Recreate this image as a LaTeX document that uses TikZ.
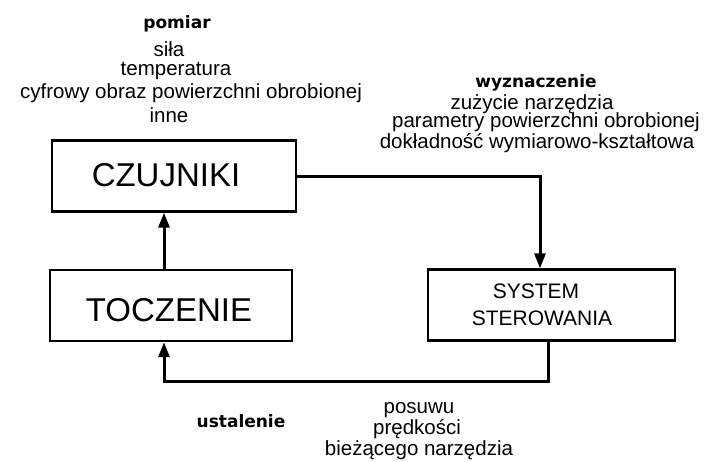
\documentclass[tikz,border=0pt]{standalone}
\usepackage{fontspec}
\setmainfont{Liberation Sans}
\newfontfamily\boldfont{DejaVu Sans}
\usetikzlibrary{arrows.meta}

\begin{document}
\begin{tikzpicture}[x=1pt,y=-1pt,
  blok/.style={draw,line width=2.4pt,minimum width=#1,minimum height=71pt,inner sep=0pt},
  duzy/.style={inner sep=0pt,font=\fontsize{33}{36}\selectfont},
  srodek/.style={anchor=base,inner sep=0pt,font=\fontsize{21}{24}\selectfont},
  opis/.style={anchor=base,inner sep=0pt,font=\fontsize{20.5}{22}\selectfont},
  naglowek/.style={anchor=base,inner sep=0pt,font=\boldfont\bfseries\fontsize{17}{19}\selectfont},
  strz/.style={line width=3pt,-{Triangle[length=15pt,width=11pt]}}]
  \useasboundingbox (0,0) rectangle (707,461);
  % bloki
  \node[blok=244pt] (czujniki) at (174,176) {};
  \node[blok=242pt] (toczenie) at (171,305.5) {};
  \node[blok=247pt] (system) at (551.5,305) {};
  \node[duzy] (czujnikiT) at (166,175) {CZUJNIKI};
  \node[duzy] (toczenieT) at (169,310) {TOCZENIE};
  \node[srodek] (systemT) at (536,298) {SYSTEM};
  \node[srodek] (sterowT) at (542,325) {STEROWANIA};
  % pomiar
  \node[naglowek] (pomiar) at (177,28) {pomiar};
  \node[opis] (sila) at (169,56) {siła};
  \node[opis] (temp) at (176,75) {temperatura};
  \node[opis] (obraz) at (191,98) {cyfrowy obraz powierzchni obrobionej};
  \node[opis] (inne) at (169,122) {inne};
  % wyznaczenie
  \node[naglowek] (wyzn) at (536,87.5) {wyznaczenie};
  \node[opis] (zuzycie) at (532,109) {zużycie narzędzia};
  \node[opis] (param) at (546,127.5) {parametry powierzchni obrobionej};
  \node[opis] (dokl) at (537,148) {dokładność wymiarowo-kształtowa};
  % ustalenie
  \node[naglowek] (ustal) at (241,427) {ustalenie};
  \node[opis] (posuw) at (419,413) {posuwu};
  \node[opis] (predk) at (417,434) {prędkości};
  \node[opis] (narz) at (419,455) {bieżącego narzędzia};
  % polaczenia
  \coordinate (dol) at (360,381);
  \draw[strz] (czujniki.east) -| ([xshift=-11.5pt]system.north);
  \draw[strz] ([xshift=-3.5pt]system.south) |- (dol) -| ([xshift=-7pt]toczenie.south);
  \draw[strz] ([xshift=-7pt]toczenie.north) -- ([xshift=-7pt]toczenie.north |- czujniki.south);
\end{tikzpicture}
\end{document}
